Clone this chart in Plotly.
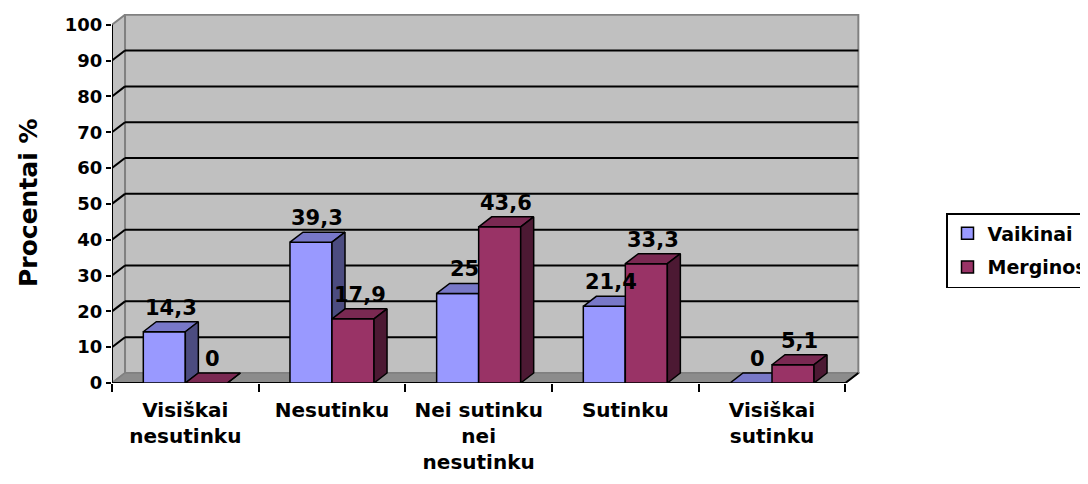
import plotly.graph_objects as go

# ---------------- data ----------------
categories = ["Visiškai<br>nesutinku", "Nesutinku", "Nei sutinku<br>nei<br>nesutinku",
              "Sutinku", "Visiškai<br>sutinku"]
series_names = ["Vaikinai", "Merginos"]
vaikinai = [14.3, 39.3, 25, 21.4, 0]
merginos = [0, 17.9, 43.6, 33.3, 5.1]
y_ticks = [0, 10, 20, 30, 40, 50, 60, 70, 80, 90, 100]
y_title = "Procentai %"

# ---------------- style / geometry ----------------
OFF = 8                      # page body margin in the browser
W, H = 1088 - OFF, 484 - OFF
ML, MT = 112 - OFF, 14 - OFF
MB = H - (383 - OFF)
XR = [-0.5, 4.6]
YR = [0, 103]
px_x = 146.6
plot_w = round(px_x * (XR[1] - XR[0]))
MR = W - ML - plot_w
plot_h = H - MT - MB
px_y = plot_h / (YR[1] - YR[0])
DX = 13 / px_x                    # 3D depth offset in data units
DY = 10 / px_y
BW = 42 / px_x                    # bar width in data units

FONT = "DejaVu Sans"
C_V = dict(front="#9999FF", top="#7878C8", side="#4C4C80")
C_M = dict(front="#993366", top="#7A2952", side="#4C1933")
WALL = "#C0C0C0"
FLOOR = "#8C8C8C"
EDGE = "#808080"

xs = list(range(len(categories)))


def fmt(v):
    return f"{v:g}".replace(".", ",")


def faces(values, off):
    tx, ty, sx, sy = [], [], [], []
    for x, h in zip(xs, values):
        xl = x + off
        xr = xl + BW
        tx += [xl, xr, xr + DX, xl + DX, xl, None]
        ty += [h, h, h + DY, h + DY, h, None]
        sx += [xr, xr + DX, xr + DX, xr, xr, None]
        sy += [0, DY, h + DY, h, 0, None]
    return tx, ty, sx, sy


fig = go.Figure()

for name, vals, cols, off, xa, ya in [
    (series_names[0], vaikinai, C_V, -BW, "x", "y"),
    (series_names[1], merginos, C_M, 0.0, "x2", "y2"),
]:
    fig.add_trace(go.Bar(
        x=xs, y=vals, name=name, width=BW, offset=off, legendgroup=name,
        marker=dict(color=cols["front"], line=dict(color="black", width=1.5)),
        xaxis=xa, yaxis=ya, hoverinfo="skip"))
    tx, ty, sx, sy = faces(vals, off)
    fig.add_trace(go.Scatter(
        x=tx, y=ty, mode="lines", fill="toself", fillcolor=cols["top"],
        line=dict(color="black", width=1.5), showlegend=False, legendgroup=name,
        xaxis=xa, yaxis=ya, hoverinfo="skip"))
    fig.add_trace(go.Scatter(
        x=sx, y=sy, mode="lines", fill="toself", fillcolor=cols["side"],
        line=dict(color="black", width=1.5), showlegend=False, legendgroup=name,
        xaxis=xa, yaxis=ya, hoverinfo="skip"))

# ---------------- walls, floor, gridlines ----------------
x0, x1 = XR[0], len(categories) - 0.5
ytop = y_ticks[-1]
shapes = []
shapes.append(dict(type="rect", xref="x", yref="y", layer="below",
                   x0=x0 + DX, x1=x1 + DX, y0=DY, y1=ytop + DY,
                   fillcolor=WALL, line=dict(color=EDGE, width=2)))
shapes.append(dict(type="path", xref="x", yref="y", layer="below",
                   path=f"M{x0},0 L{x0},{ytop} L{x0 + DX},{ytop + DY} L{x0 + DX},{DY} Z",
                   fillcolor=WALL, line=dict(color=EDGE, width=2)))
shapes.append(dict(type="path", xref="x", yref="y", layer="below",
                   path=f"M{x0},0 L{x1},0 L{x1 + DX},{DY} L{x0 + DX},{DY} Z",
                   fillcolor=FLOOR, line=dict(color=EDGE, width=1.5)))
for v in y_ticks[1:-1]:
    shapes.append(dict(type="line", xref="x", yref="y", layer="below",
                       x0=x0 + DX, x1=x1 + DX, y0=v + DY, y1=v + DY,
                       line=dict(color="black", width=2)))
    shapes.append(dict(type="line", xref="x", yref="y", layer="below",
                       x0=x0, x1=x0 + DX, y0=v, y1=v + DY,
                       line=dict(color="black", width=2)))
shapes.append(dict(type="line", xref="x", yref="y", layer="below",
                   x0=x0, x1=x0, y0=0, y1=ytop, line=dict(color="black", width=2)))
shapes.append(dict(type="line", xref="x", yref="y", layer="below",
                   x0=x0, x1=x1, y0=0, y1=0, line=dict(color="black", width=2)))
shapes.append(dict(type="line", xref="x", yref="y", layer="below",
                   x0=x1, x1=x1 + DX, y0=0, y1=DY, line=dict(color="black", width=2)))

# ---------------- data labels ----------------
annotations = []
for vals, off in [(vaikinai, -BW), (merginos, 0.0)]:
    for x, h in zip(xs, vals):
        annotations.append(dict(
            x=x + off + BW / 2 + DX / 2, y=h + DY, xref="x", yref="y",
            text=fmt(h), showarrow=False, yanchor="bottom", xanchor="center",
            font=dict(size=21, color="black", family=FONT, weight="bold")))
annotations.append(dict(
    x=(28 - OFF - ML) / plot_w, y=(H - MB - (203 - OFF)) / plot_h,
    xref="paper", yref="paper", xanchor="center", yanchor="middle",
    text=y_title, textangle=-90, showarrow=False,
    font=dict(size=25, color="black", family=FONT, weight="bold")))

fig.update_layout(
    width=W, height=H,
    margin=dict(l=ML, r=MR, t=MT, b=MB, pad=0, autoexpand=False),
    paper_bgcolor="white", plot_bgcolor="rgba(0,0,0,0)",
    font=dict(family=FONT, color="black", weight="bold"),
    shapes=shapes, annotations=annotations,
    xaxis=dict(range=XR, tickmode="array", tickvals=xs, ticktext=categories,
               ticks="outside", ticklen=9, tickcolor="rgba(0,0,0,0)",
               tickfont=dict(size=20), showgrid=False, zeroline=False, showline=False,
               minor=dict(tickmode="array", tickvals=[v - 0.5 for v in xs] + [len(xs) - 0.5],
                          ticks="outside", ticklen=8, tickwidth=2, tickcolor="black",
                          showgrid=False),
               fixedrange=True),
    yaxis=dict(range=YR, tickmode="array", tickvals=y_ticks,
               ticks="outside", ticklen=5, tickwidth=2, tickcolor="black",
               tickfont=dict(size=18), showgrid=False, zeroline=False, showline=False,
               fixedrange=True),
    xaxis2=dict(range=XR, overlaying="x", visible=False, fixedrange=True),
    yaxis2=dict(range=YR, overlaying="y", visible=False, fixedrange=True),
    legend=dict(xref="container", yref="container", x=(946 - OFF) / W, y=1 - (213 - OFF) / H,
                xanchor="left", yanchor="top", bordercolor="black", borderwidth=1.5,
                tracegroupgap=6, traceorder="grouped",
                bgcolor="white", font=dict(size=19, family=FONT, weight="bold")),
    showlegend=True,
)

fig.write_html("out.html")
